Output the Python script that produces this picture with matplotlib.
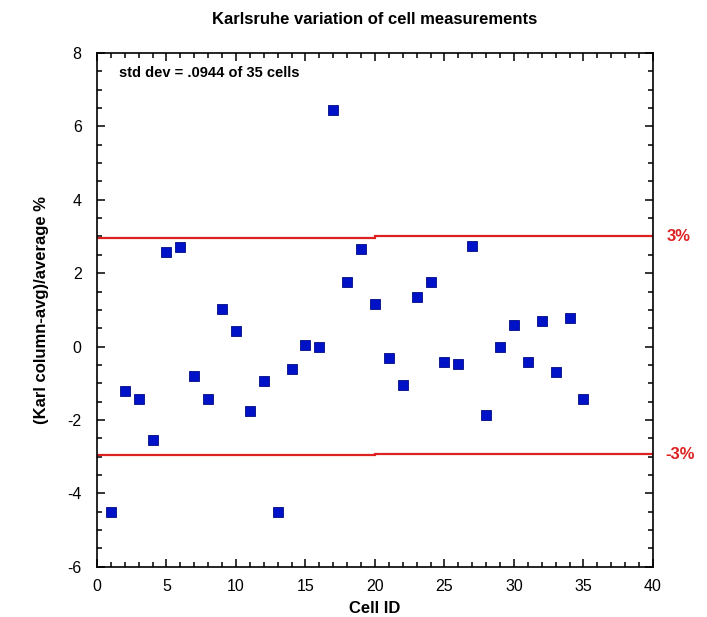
import matplotlib
import matplotlib.pyplot as plt
from matplotlib.ticker import MultipleLocator

matplotlib.use("Agg")
plt.rcParams["font.family"] = ["Liberation Sans", "DejaVu Sans"]
plt.rcParams["axes.unicode_minus"] = False

# cell deviation values
cell_id = list(range(1, 36))
deviation = [
    -4.52, -1.21, -1.44, -2.56, 2.59, 2.70, -0.79, -1.44, 1.01, 0.42,
    -1.76, -0.94, -4.51, -0.62, 0.03, 0.00, 6.44, 1.75, 2.67, 1.17,
    -0.32, -1.06, 1.36, 1.75, -0.43, -0.47, 2.75, -1.87, 0.00, 0.58,
    -0.43, 0.69, -0.70, 0.78, -1.44,
]

# limit lines, drawn in two halves as in the original
limit_x = [0, 20, 40]
upper_limit = [2.96, 3.01]
lower_limit = [-2.95, -2.92]

red = "#dd2020"

fig = plt.figure(figsize=(7.07, 6.17), dpi=100)
ax = fig.add_axes([0.1372, 0.0815, 0.7864, 0.8326])

for i in range(2):
    ax.plot(limit_x[i:i + 2], [upper_limit[i]] * 2, color=red, lw=1.6)
    ax.plot(limit_x[i:i + 2], [lower_limit[i]] * 2, color=red, lw=1.6)

ax.plot(cell_id, deviation, "s", color="#0012c8", markeredgecolor="#000a80",
        markeredgewidth=0.6, markersize=7.2, zorder=3)

ax.set_xlim(0, 40)
ax.set_ylim(-6, 8)
ax.xaxis.set_major_locator(MultipleLocator(5))
ax.xaxis.set_minor_locator(MultipleLocator(1))
ax.yaxis.set_major_locator(MultipleLocator(2))
ax.yaxis.set_minor_locator(MultipleLocator(0.5))
ax.tick_params(which="both", direction="in", top=True, right=True,
               labelsize=11.5, width=1.1)
ax.tick_params(axis="x", pad=9)
ax.tick_params(axis="y", pad=11)
ax.tick_params(which="major", length=6)
ax.tick_params(which="minor", length=3.5)
for s in ax.spines.values():
    s.set_linewidth(1.2)

ax.set_title("Karlsruhe variation of cell measurements", fontsize=12,
             fontweight="bold", pad=21)
ax.set_xlabel("Cell ID", fontsize=12, fontweight="bold", labelpad=5)
ax.set_ylabel("(Karl column-avg)/average %", fontsize=12, fontweight="bold",
              labelpad=13)

ax.text(0.04, 0.962, "std dev = .0944 of 35 cells", transform=ax.transAxes,
        fontsize=10.5, fontweight="bold", va="center")

ax.text(1.025, 3.0, "3%", transform=ax.get_yaxis_transform(), color=red,
        fontsize=12, fontweight="bold", va="center")
ax.text(1.022, -2.93, "-3%", transform=ax.get_yaxis_transform(), color=red,
        fontsize=12, fontweight="bold", va="center")

fig.savefig("out.png", dpi=100, facecolor="white")
plt.close(fig)
